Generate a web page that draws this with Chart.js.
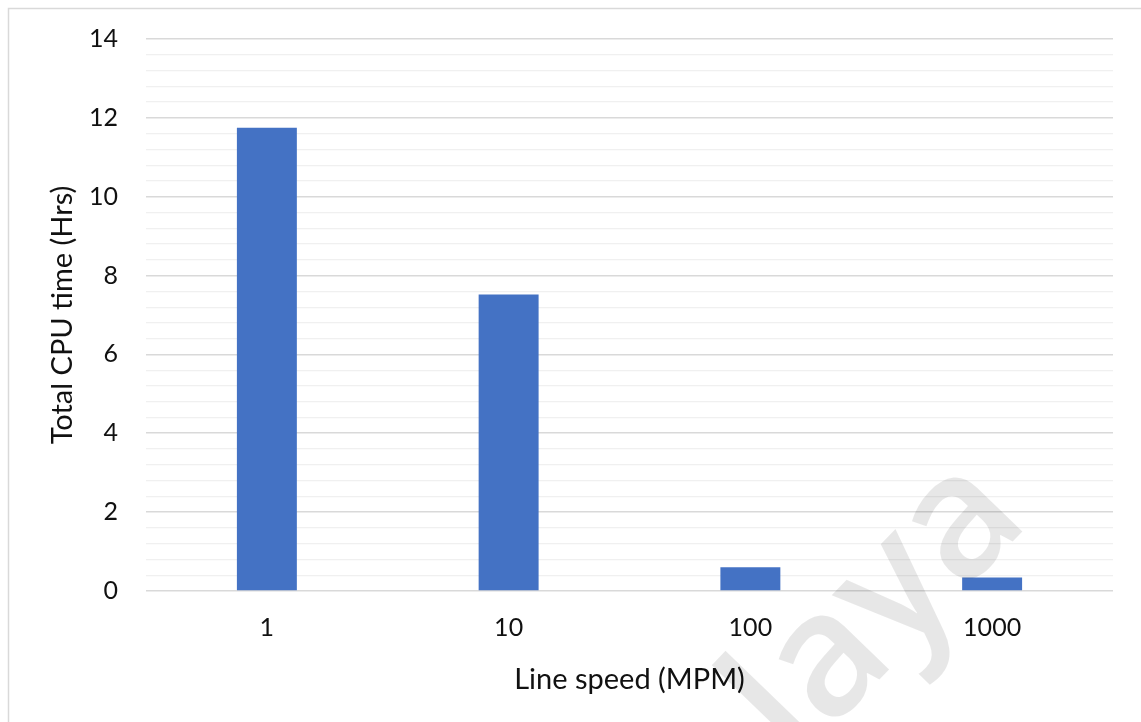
<!DOCTYPE html>
<html>
<head>
<meta charset="utf-8">
<script src="https://cdn.jsdelivr.net/npm/chart.js@4/dist/chart.umd.min.js"></script>
<style>
  html, body { margin: 0; padding: 0; background: #ffffff; }
  #wrap { position: relative; width: 1141px; height: 722px; }
</style>
</head>
<body>
<div id="wrap"><canvas id="chart" width="1141" height="722"></canvas></div>
<script>
// Line speed categories and total CPU time per run
const categories = ['1', '10', '100', '1000'];
const cpuHours = [11.75, 7.52, 0.6, 0.34];

// Value axis: labelled every 2 hours, light minor lines every 0.4
const yMax = 14;
const majorStep = 2;
const minorStep = 0.4;

const xTitle = 'Line speed (MPM)';
const yTitle = 'Total CPU time (Hrs)';
const watermark = 'laya';

const FONT = 'Lato, "Open Sans", "DejaVu Sans", sans-serif';

function isMajor(v) {
  const q = v / majorStep;
  return Math.abs(q - Math.round(q)) < 1e-6;
}

// Thin frame around the chart, open towards the right and bottom edges
const framePlugin = {
  id: 'frame',
  beforeDraw(chart) {
    const ctx = chart.ctx;
    ctx.save();
    ctx.strokeStyle = '#d9d9d9';
    ctx.lineWidth = 1.5;
    ctx.beginPath();
    ctx.moveTo(8.5, chart.height + 2);
    ctx.lineTo(8.5, 8.5);
    ctx.lineTo(chart.width + 2, 8.5);
    ctx.stroke();
    ctx.restore();
  }
};

// Faint diagonal watermark text across the lower right corner
const watermarkPlugin = {
  id: 'watermark',
  afterDraw(chart) {
    const ctx = chart.ctx;
    ctx.save();
    ctx.translate(796, 766);
    ctx.rotate(-46 * Math.PI / 180);
    ctx.font = '600 172px "Open Sans", sans-serif';
    ctx.fillStyle = 'rgba(0,0,0,0.095)';
    ctx.textAlign = 'left';
    ctx.textBaseline = 'alphabetic';
    ctx.fillText(watermark, 0, 0);
    ctx.restore();
  }
};

new Chart(document.getElementById('chart'), {
  type: 'bar',
  data: {
    labels: categories,
    datasets: [{
      data: cpuHours,
      backgroundColor: '#4472C4',
      borderWidth: 0,
      categoryPercentage: 1,
      barPercentage: 0.248
    }]
  },
  options: {
    responsive: false,
    animation: false,
    devicePixelRatio: 1,
    layout: { padding: { left: 8, top: 39, right: 28, bottom: 0 } },
    plugins: {
      legend: { display: false },
      tooltip: { enabled: false }
    },
    scales: {
      x: {
        grid: { display: false, drawTicks: false },
        border: { display: false },
        ticks: {
          color: '#111',
          font: { family: FONT, size: 25 },
          padding: 22
        },
        title: {
          display: true,
          text: xTitle,
          color: '#111',
          font: { family: FONT, size: 29 },
          padding: { top: 0, bottom: 25 }
        },
        afterFit(scale) { scale.height = 131; }
      },
      y: {
        min: 0,
        max: yMax,
        grid: {
          drawTicks: false,
          color: ctx => isMajor(ctx.tick.value) ? '#d9d9d9' : '#f0f0f0',
          lineWidth: ctx => isMajor(ctx.tick.value) ? 1.6 : 1.2
        },
        border: { display: false },
        ticks: {
          stepSize: minorStep,
          autoSkip: false,
          color: '#111',
          font: { family: FONT, size: 25 },
          padding: 28,
          callback: v => isMajor(v) ? String(Math.round(v)) : ''
        },
        title: {
          display: true,
          text: yTitle,
          color: '#111',
          font: { family: FONT, size: 29 },
          padding: { top: 37, bottom: 0 }
        },
        afterFit(scale) {
          scale.width = 138;
          scale.paddingTop = 0;
          scale.paddingBottom = 0;
        }
      }
    }
  },
  plugins: [framePlugin, watermarkPlugin]
});
</script>
</body>
</html>
